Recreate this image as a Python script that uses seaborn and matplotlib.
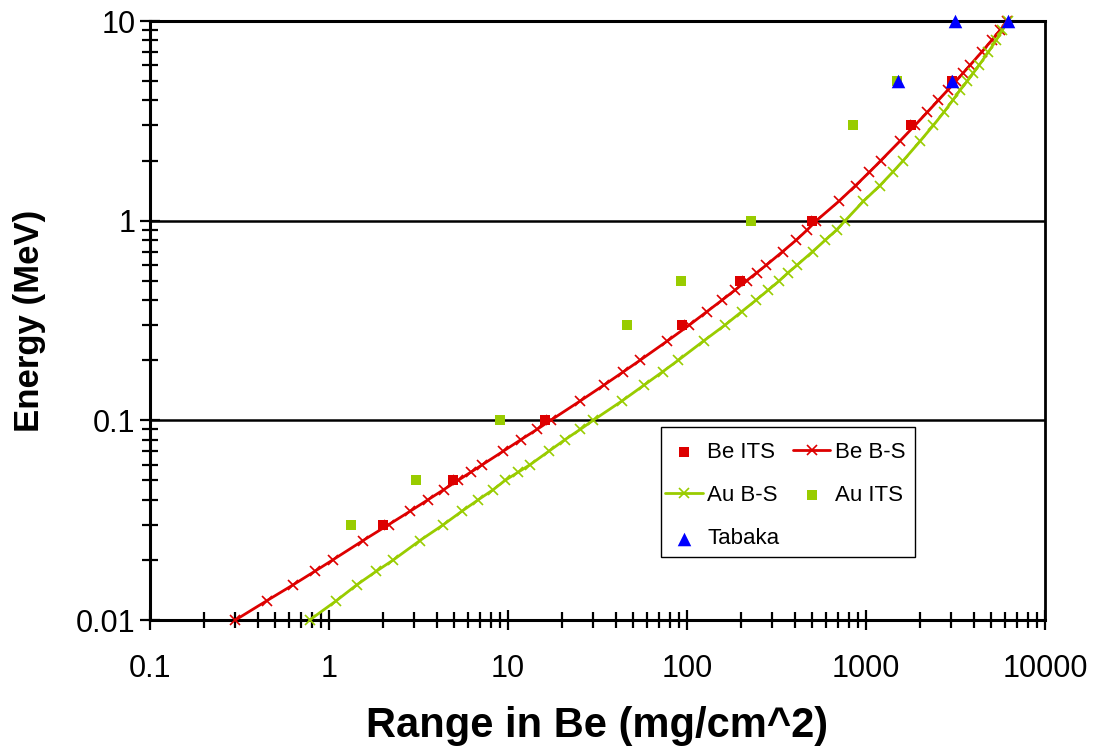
import matplotlib
matplotlib.use("Agg")
import matplotlib.pyplot as plt
from matplotlib.patches import Rectangle
from matplotlib.ticker import LogLocator, FuncFormatter, NullFormatter
import seaborn as sns
import pandas as pd

# Electron energies (MeV) on the tabulation grid of the B-S range curves
energy_grid = [0.01, 0.0125, 0.015, 0.0175, 0.02, 0.025, 0.03, 0.035, 0.04, 0.045,
               0.05, 0.055, 0.06, 0.07, 0.08, 0.09, 0.1, 0.125, 0.15, 0.175,
               0.2, 0.25, 0.3, 0.35, 0.4, 0.45, 0.5, 0.55, 0.6, 0.7,
               0.8, 0.9, 1.0, 1.25, 1.5, 1.75, 2.0, 2.5, 3.0, 3.5,
               4.0, 4.5, 5.0, 5.5, 6.0, 7.0, 8.0, 9.0, 10.0]

# Range in Be (mg/cm^2), Be B-S curve
be_bs_range = [0.30, 0.45, 0.63, 0.83, 1.05, 1.55, 2.15, 2.83, 3.57, 4.38,
               5.25, 6.2, 7.2, 9.4, 11.8, 14.5, 17.3, 25.3, 34.3, 44.1,
               54.7, 77.8, 103, 129, 157, 186, 215, 246, 278, 342,
               408, 470, 528, 705, 875, 1045, 1210, 1545, 1875, 2205,
               2530, 2855, 3180, 3495, 3810, 4430, 5035, 5610, 6170]

# Range in Be (mg/cm^2), Au B-S curve
au_bs_range = [0.78, 1.10, 1.43, 1.83, 2.29, 3.22, 4.35, 5.51, 6.82, 8.28,
               9.62, 11.4, 13.3, 16.9, 20.8, 25.3, 29.9, 43.3, 57.5, 73.0,
               89.4, 124, 163, 202, 243, 285, 328, 368, 413, 503,
               593, 686, 765, 966, 1197, 1409, 1615, 2004, 2377, 2728,
               3048, 3350, 3680, 3981, 4278, 4830, 5330, 5780, 6200]

# ITS calculations
its_energy = [0.03, 0.05, 0.1, 0.3, 0.5, 1.0, 3.0, 5.0]
be_its_range = [2.0, 4.9, 16, 94, 198, 500, 1780, 3020]
au_its_range = [1.33, 3.06, 9.0, 46, 92, 228, 846, 1490]

# Tabaka measurements
tabaka_energy = [5.0, 5.0, 10.0, 10.0]
tabaka_range = [1500, 3040, 3140, 6250]

RED = "#DD0000"
GREEN = "#99CC00"
BLUE = "#0000FF"

sns.set_theme(style="white")
plt.rcParams["font.family"] = ["Liberation Sans", "DejaVu Sans"]
plt.rcParams["text.color"] = "black"
plt.rcParams["axes.labelcolor"] = "black"

W, H = 1099, 752
fig = plt.figure(figsize=(W / 100, H / 100), dpi=100)
# plot area in pixels: x 150..1045, y 21..620
ax = fig.add_axes([150 / W, 1 - 620 / H, 895 / W, 599 / H])


def px_to_axes(px, py):
    return (px - 150) / 895, (620 - py) / 599


be_bs = pd.DataFrame({"range": be_bs_range, "energy": energy_grid})
au_bs = pd.DataFrame({"range": au_bs_range, "energy": energy_grid})

sns.scatterplot(x=be_its_range, y=its_energy, ax=ax, marker="s", s=55,
                color=RED, linewidth=0, label="Be ITS", zorder=3, clip_on=False)
sns.lineplot(data=be_bs, x="range", y="energy", ax=ax, sort=False, estimator=None,
             color=RED, lw=2.0, marker="x", markersize=7, markeredgewidth=1.2,
             markeredgecolor=RED, label="Be B-S", zorder=4, clip_on=False)
sns.lineplot(data=au_bs, x="range", y="energy", ax=ax, sort=False, estimator=None,
             color=GREEN, lw=2.0, marker="x", markersize=7, markeredgewidth=1.2,
             markeredgecolor=GREEN, label="Au B-S", zorder=5, clip_on=False)
sns.scatterplot(x=au_its_range, y=its_energy, ax=ax, marker="s", s=55,
                color=GREEN, linewidth=0, label="Au ITS", zorder=6, clip_on=False)
sns.scatterplot(x=tabaka_range, y=tabaka_energy, ax=ax, marker="^", s=95,
                color=BLUE, linewidth=0, label="Tabaka", zorder=7, clip_on=False)

ax.set_xscale("log")
ax.set_yscale("log")
ax.set_xlim(0.1, 10000)
ax.set_ylim(0.01, 10)

fmt = FuncFormatter(lambda v, p: "%g" % v)
for axis in (ax.xaxis, ax.yaxis):
    axis.set_major_locator(LogLocator(base=10))
    axis.set_minor_locator(LogLocator(base=10, subs=range(2, 10)))
    axis.set_major_formatter(fmt)
    axis.set_minor_formatter(NullFormatter())

ax.tick_params(which="major", direction="inout", length=15, width=1.6,
               color="black", labelsize=22, labelcolor="black")
ax.tick_params(axis="x", which="major", pad=17)
ax.tick_params(axis="y", which="major", pad=3)
ax.tick_params(which="minor", direction="inout", length=12, width=1.6, color="black")
ax.tick_params(which="both", left=True, bottom=True, top=False, right=False)

ax.yaxis.grid(True, which="major", color="black", lw=1.8)
ax.xaxis.grid(False)
for side in ("left", "bottom", "top"):
    ax.spines[side].set_color("black")
    ax.spines[side].set_linewidth(2.2)
ax.spines["right"].set_color("black")
ax.spines["right"].set_linewidth(2.0)

ax.set_xlabel("Range in Be (mg/cm^2)", fontsize=30, fontweight="bold", color="black")
ax.set_ylabel("Energy (MeV)", fontsize=25, fontweight="bold", color="black")
ax.xaxis.set_label_coords(0.5, -0.143)
ax.yaxis.set_label_coords(-0.116, 0.5)

# legend frame drawn as a plain box, entries placed inside it
x0, y0 = px_to_axes(661, 557)
x1, y1 = px_to_axes(915, 427)
ax.add_patch(Rectangle((x0, y0), x1 - x0, y1 - y0, transform=ax.transAxes,
                       facecolor="white", edgecolor="black", lw=1.0, zorder=8,
                       clip_on=False))

handles, labels = ax.get_legend_handles_labels()
order = ["Be ITS", "Au B-S", "Tabaka", "Be B-S", "Au ITS"]
hmap = dict(zip(labels, handles))
leg = ax.legend([hmap[k] for k in order], order, ncol=2, loc="upper left",
                bbox_to_anchor=px_to_axes(665, 442), borderaxespad=0, borderpad=0,
                fontsize=16, frameon=False, handlelength=1.7, handletextpad=0.2,
                columnspacing=0.6, labelspacing=1.0)
leg.set_zorder(9)

fig.savefig("out.png", dpi=100, facecolor="white")
